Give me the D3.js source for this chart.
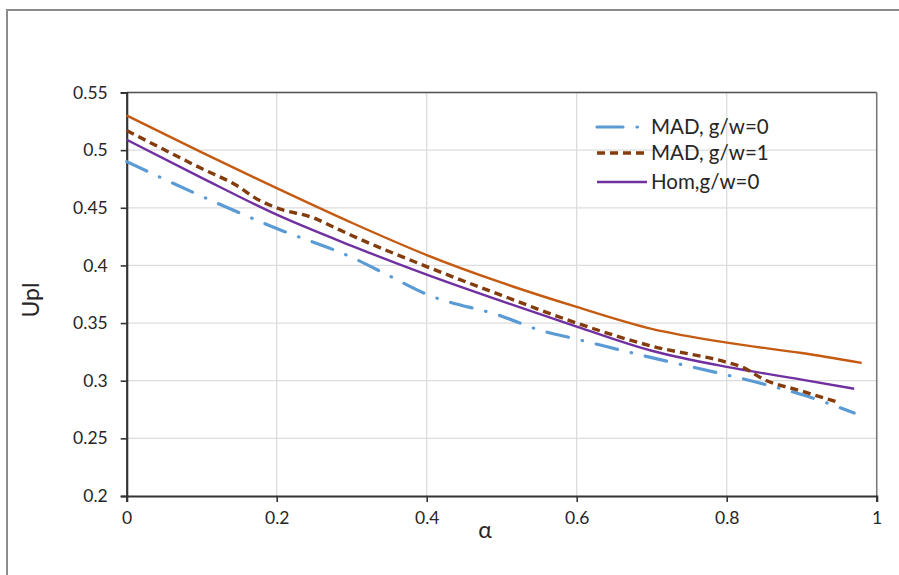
<!DOCTYPE html>
<html>
<head>
<meta charset="utf-8">
<script src="https://cdn.jsdelivr.net/npm/d3@7/dist/d3.min.js"></script>
<style>
  html, body { margin: 0; padding: 0; background: #fff; }
  svg { display: block; font-family: Lato, "Open Sans", sans-serif; }
</style>
</head>
<body>
<svg id="chart" width="899" height="575"></svg>
<script>
// α values and Upl values per series
const alphaTop = [0, 0.1, 0.2, 0.3, 0.4, 0.5, 0.6, 0.7, 0.8, 0.9, 0.98];
const uplTop   = [0.530, 0.498, 0.467, 0.437, 0.409, 0.385, 0.364, 0.345, 0.333, 0.324, 0.3155];

const alphaMad1 = [0, 0.1, 0.15, 0.17, 0.2, 0.25, 0.28, 0.3, 0.4, 0.5, 0.6, 0.7, 0.8, 0.82, 0.85, 0.9, 0.95];
const uplMad1   = [0.517, 0.484, 0.468, 0.459, 0.450, 0.441, 0.432, 0.426, 0.399, 0.374, 0.350, 0.330, 0.316, 0.312, 0.301, 0.291, 0.281];

const alphaHom = [0, 0.1, 0.2, 0.3, 0.4, 0.5, 0.6, 0.7, 0.8, 0.9, 0.97];
const uplHom   = [0.509, 0.476, 0.444, 0.417, 0.392, 0.369, 0.347, 0.326, 0.312, 0.301, 0.293];

const alphaMad0 = [0, 0.1, 0.2, 0.3, 0.35, 0.4, 0.5, 0.55, 0.6, 0.7, 0.8, 0.85, 0.9, 0.97];
const uplMad0   = [0.490, 0.460, 0.432, 0.407, 0.391, 0.375, 0.356, 0.344, 0.336, 0.320, 0.305, 0.297, 0.288, 0.272];

const xTicks = [0, 0.2, 0.4, 0.6, 0.8, 1];
const yTicks = [0.2, 0.25, 0.3, 0.35, 0.4, 0.45, 0.5, 0.55];

const legendNames = ["MAD, g/w=0", "MAD, g/w=1", "Hom,g/w=0"];

const series = [
  { xs: alphaTop,  ys: uplTop,  color: "#C55A11", width: 2.4, dash: null,           legend: null },
  { xs: alphaMad0, ys: uplMad0, color: "#5B9BD5", width: 3.2, dash: "22,14,0.5,14", legend: 0 },
  { xs: alphaHom,  ys: uplHom,  color: "#7030A0", width: 2.4, dash: null,           legend: 2 },
  { xs: alphaMad1, ys: uplMad1, color: "#843C0C", width: 3.4, dash: "8,5",          legend: 1 }
];

const svg = d3.select("#chart");
const W = 899, H = 575;
const plotL = 126.7, plotR = 876.7, plotT = 92.5, plotB = 496;

// outer chart frame
svg.append("rect")
  .attr("x", 7).attr("y", 10)
  .attr("width", W + 20).attr("height", H + 20)
  .attr("fill", "none").attr("stroke", "#8c8c8c").attr("stroke-width", 2);

const x = d3.scaleLinear().domain([0, 1]).range([plotL, plotR]);
const y = d3.scaleLinear().domain([0.2, 0.55]).range([plotB, plotT]);

// gridlines
svg.append("g").selectAll("line").data(yTicks.slice(1)).join("line")
  .attr("x1", plotL).attr("x2", plotR)
  .attr("y1", d => y(d)).attr("y2", d => y(d))
  .attr("stroke", "#dcdcdc").attr("stroke-width", 1.3);
svg.append("g").selectAll("line").data(xTicks.slice(1)).join("line")
  .attr("x1", d => x(d)).attr("x2", d => x(d))
  .attr("y1", plotT).attr("y2", plotB)
  .attr("stroke", "#dcdcdc").attr("stroke-width", 1.3);

// plot area border (top and right)
svg.append("line").attr("x1", plotL).attr("x2", plotR).attr("y1", plotT).attr("y2", plotT)
  .attr("stroke", "#555").attr("stroke-width", 1.5);
svg.append("line").attr("x1", plotR).attr("x2", plotR).attr("y1", plotT).attr("y2", plotB)
  .attr("stroke", "#777").attr("stroke-width", 1.5);

// axes
const xAxis = d3.axisBottom(x).tickValues(xTicks).tickSize(6).tickPadding(10)
  .tickFormat(d => d3.format("~g")(d));
const yAxis = d3.axisLeft(y).tickValues(yTicks).tickSize(6).tickPadding(13)
  .tickFormat(d => d3.format("~g")(d));

const gx = svg.append("g").attr("transform", `translate(0,${plotB})`).call(xAxis);
const gy = svg.append("g").attr("transform", `translate(${plotL},0)`).call(yAxis);
[gx, gy].forEach(g => {
  g.select(".domain").attr("stroke", "#333").attr("stroke-width", 2.2);
  g.selectAll(".tick line").attr("stroke", "#333").attr("stroke-width", 1.6);
  g.selectAll(".tick text").attr("fill", "#262626")
    .style("font-family", "Lato, sans-serif").style("font-size", "17.5px");
});

// series lines
const line = d3.line().x(d => x(d[0])).y(d => y(d[1])).curve(d3.curveMonotoneX);
series.forEach(s => {
  const pts = s.xs.map((a, i) => [a, s.ys[i]]);
  svg.append("path").datum(pts)
    .attr("d", line)
    .attr("fill", "none")
    .attr("stroke", s.color)
    .attr("stroke-width", s.width)
    .attr("stroke-linecap", s.dash && s.dash.includes("0.5") ? "round" : "butt")
    .attr("stroke-dasharray", s.dash);
});

// axis titles
svg.append("text").attr("x", 485).attr("y", 538)
  .attr("text-anchor", "middle").attr("fill", "#262626")
  .style("font-size", "23px").text("α");
svg.append("text")
  .attr("transform", "translate(39,300) rotate(-90)")
  .attr("text-anchor", "middle").attr("fill", "#262626")
  .style("font-size", "23px").text("Upl");

// legend
const legendRows = [127, 153, 182];
const leg = svg.append("g");
series.filter(s => s.legend !== null).forEach(s => {
  const ry = legendRows[s.legend];
  leg.append("line")
    .attr("x1", 597).attr("x2", 647).attr("y1", ry).attr("y2", ry)
    .attr("stroke", s.color).attr("stroke-width", s.width)
    .attr("stroke-linecap", s.dash && s.dash.includes("0.5") ? "round" : "butt")
    .attr("stroke-dasharray", s.dash ? (s.legend === 0 ? "26,14,0.5,14" : s.dash) : null);
  leg.append("text")
    .attr("x", 651).attr("y", ry).attr("dy", "0.35em")
    .attr("fill", "#262626").style("font-size", "20.5px")
    .text(legendNames[s.legend]);
});
</script>
</body>
</html>
